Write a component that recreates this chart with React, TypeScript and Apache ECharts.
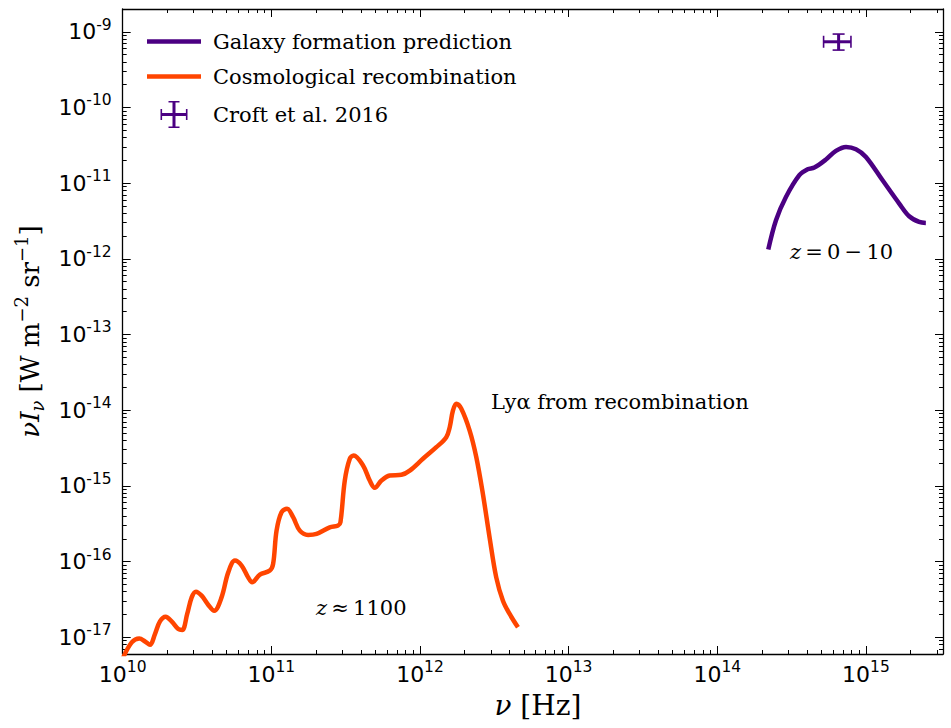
import React, { useEffect, useRef } from 'react';
import * as echarts from 'echarts';

// ---------- data (raw physical values) ----------
// Cosmological recombination spectrum: frequency [Hz], nu*I_nu [W m^-2 sr^-1]
const recombNu = [
  1.0e10, 1.15e10, 1.293e10, 1.413e10, 1.526e10, 1.648e10, 1.781e10, 1.945e10, 2.133e10, 2.366e10,
  2.515e10, 2.716e10, 2.911e10, 3.109e10, 3.396e10, 3.758e10, 4.127e10, 4.624e10, 5.129e10, 5.689e10,
  6.31e10, 6.98e10, 7.43e10, 8.37e10, 9.77e10, 1.028e11, 1.084e11, 1.171e11, 1.276e11, 1.401e11,
  1.554e11, 1.766e11, 2.014e11, 2.472e11, 2.812e11, 2.917e11, 3.119e11, 3.371e11, 3.581e11, 4.14e11,
  4.592e11, 4.96e11, 5.505e11, 6.25e11, 7.5e11, 8.53e11, 1.047e12, 1.288e12, 1.503e12, 1.585e12,
  1.667e12, 1.757e12, 1.897e12, 2.158e12, 2.393e12, 2.649e12, 2.938e12, 3.258e12, 3.614e12, 4.009e12,
  4.56e12,
];
const recombI = [
  5.2e-18, 8.53e-18, 9.64e-18, 8.79e-18, 7.94e-18, 1.1e-17, 1.62e-17, 1.87e-17, 1.62e-17, 1.28e-17,
  1.245e-17, 2.03e-17, 3.36e-17, 4.0e-17, 3.54e-17, 2.69e-17, 2.24e-17, 3.36e-17, 7.19e-17, 1.028e-16,
  8.83e-17, 6.18e-17, 5.31e-17, 6.71e-17, 7.59e-17, 9.29e-17, 2.56e-16, 4.48e-16, 4.97e-16, 3.85e-16,
  2.56e-16, 2.25e-16, 2.32e-16, 2.83e-16, 2.99e-16, 3.3e-16, 1.175e-15, 2.28e-15, 2.52e-15, 1.86e-15,
  1.175e-15, 9.42e-16, 1.175e-15, 1.368e-15, 1.4e-15, 1.59e-15, 2.28e-15, 3.24e-15, 4.4e-15, 5.96e-15,
  9.91e-15, 1.216e-14, 1.045e-14, 5.38e-15, 2.39e-15, 7.83e-16, 2.09e-16, 6.18e-17, 3.04e-17, 2.03e-17,
  1.35e-17,
];

// Galaxy formation prediction
const galaxyNu = [
  2.203e14, 2.483e14, 2.897e14, 3.565e14, 4.055e14, 4.498e14, 5.383e14, 6.28e14,
  7.35e14, 8.57e14, 1.0e15, 1.294e15, 1.675e15, 1.954e15, 2.28e15, 2.53e15,
];
const galaxyI = [
  1.324e-12, 3.23e-12, 6.56e-12, 1.274e-11, 1.528e-11, 1.607e-11, 2.05e-11, 2.67e-11,
  3.01e-11, 2.81e-11, 2.22e-11, 1.09e-11, 5.37e-12, 3.65e-12, 3.07e-12, 2.98e-12,
];

// Croft et al. 2016 measurement with error bars
const croftNu = [6.55e14];
const croftNuLow = [5.19e14];
const croftNuHigh = [7.93e14];
const croftI = [7.38e-10];
const croftILow = [5.73e-10];
const croftIHigh = [9.33e-10];

// axes
const xRange = [1e10, 3.3e15];
const yRange = [6e-18, 2e-9];
const xMajorExps = [10, 11, 12, 13, 14, 15];
const yMajorExps = [-17, -16, -15, -14, -13, -12, -11, -10, -9];

const seriesNames = ['Galaxy formation prediction', 'Cosmological recombination', 'Croft et al. 2016'];
const seriesColors = ['#4B0082', '#FF4500', '#4B0082'];

// ---------- helpers ----------
const L = Math.log10;
const minorLogs = (lo: number, hi: number) => {
  const out: number[] = [];
  for (let d = Math.floor(L(lo)); d <= Math.ceil(L(hi)); d++) {
    for (let k = 2; k <= 9; k++) {
      const v = k * Math.pow(10, d);
      if (v >= lo * 0.9999 && v <= hi * 1.0001) out.push(L(v));
    }
  }
  return out;
};

export default function App() {
  const ref = useRef<HTMLDivElement>(null);

  useEffect(() => {
    if (!ref.current) return;
    const chart = echarts.init(ref.current, null, { renderer: 'svg' });

    const xMin = L(xRange[0]);
    const xMax = L(xRange[1]);
    const yMin = L(yRange[0]);
    const yMax = L(yRange[1]);
    const xMinor = minorLogs(xRange[0], xRange[1]);
    const yMinor = minorLogs(yRange[0], yRange[1]);

    const lineStyle = { color: '#000', width: 1.3 };
    const tickStyle = { color: '#000', width: 1 };
    const tickRich = {
      b: { fontFamily: 'DejaVu Sans', fontSize: 22, lineHeight: 30, color: '#000' },
      e: { fontFamily: 'DejaVu Sans', fontSize: 15.5, lineHeight: 15, verticalAlign: 'top', color: '#000' },
    };
    const fmt = (v: number) => `{b|10}{e|${Math.round(v)}}`;

    const mkX = (pos: string, major: boolean, label: boolean) => ({
      type: 'value',
      position: pos,
      min: xMin,
      max: xMax,
      axisLine: { show: major, onZero: false, lineStyle },
      axisTick: {
        show: true,
        inside: true,
        length: major ? 8 : 4,
        lineStyle: tickStyle,
        customValues: major ? xMajorExps : xMinor,
      },
      axisLabel: label
        ? { show: true, customValues: xMajorExps, margin: 5, formatter: fmt, rich: tickRich }
        : { show: false },
      splitLine: { show: false },
    });
    const mkY = (pos: string, major: boolean, label: boolean) => ({
      type: 'value',
      position: pos,
      min: yMin,
      max: yMax,
      axisLine: { show: major, onZero: false, lineStyle },
      axisTick: {
        show: true,
        inside: true,
        length: major ? 8 : 4,
        lineStyle: tickStyle,
        customValues: major ? yMajorExps : yMinor,
      },
      axisLabel: label
        ? { show: true, customValues: yMajorExps, margin: 11, formatter: fmt, rich: tickRich }
        : { show: false },
      splitLine: { show: false },
    });

    const xAxes: any[] = [mkX('bottom', true, true), mkX('bottom', false, false), mkX('top', true, false), mkX('top', false, false)];
    const yAxes: any[] = [mkY('left', true, true), mkY('left', false, false), mkY('right', true, false), mkY('right', false, false)];

    xAxes[0].name = '{i|ν}{r| [Hz]}';
    xAxes[0].nameLocation = 'middle';
    xAxes[0].nameGap = 37;
    xAxes[0].nameTextStyle = {
      padding: [0, 0, 0, 10],
      rich: {
        i: { fontFamily: 'DejaVu Serif', fontStyle: 'italic', fontSize: 28, color: '#000' },
        r: { fontFamily: 'DejaVu Serif', fontSize: 28, color: '#000' },
      },
    };
    yAxes[0].name = '{i|νI}{s|ν}{r| [W m}{p|−2}{r| sr}{p|−1}{r|]}';
    yAxes[0].nameLocation = 'middle';
    yAxes[0].nameRotate = 90;
    yAxes[0].nameGap = 76;
    yAxes[0].nameTextStyle = {
      rich: {
        i: { fontFamily: 'DejaVu Serif', fontStyle: 'italic', fontSize: 26, lineHeight: 34, color: '#000' },
        s: { fontFamily: 'DejaVu Serif', fontStyle: 'italic', fontSize: 18, lineHeight: 18, verticalAlign: 'bottom', color: '#000' },
        r: { fontFamily: 'DejaVu Serif', fontSize: 26, lineHeight: 34, color: '#000' },
        p: { fontFamily: 'DejaVu Serif', fontSize: 18, lineHeight: 18, verticalAlign: 'top', color: '#000' },
      },
    };

    const toPts = (xs: number[], ys: number[]) => xs.map((x, i) => [L(x), L(ys[i])]);

    const serifRich = {
      i: { fontFamily: 'DejaVu Serif', fontStyle: 'italic', fontSize: 21, fill: '#000' },
      r: { fontFamily: 'DejaVu Serif', fontSize: 21, fill: '#000' },
    };

    const option: any = {
      animation: false,
      backgroundColor: '#fff',
      grid: { left: 122.7, right: 8, top: 9, bottom: 74, containLabel: false },
      xAxis: xAxes,
      yAxis: yAxes,
      legend: {
        orient: 'vertical',
        left: 142,
        top: 26,
        itemWidth: 54,
        itemHeight: 27,
        itemGap: 14,
        symbolKeepAspect: true,
        selectedMode: false,
        textStyle: { fontFamily: 'DejaVu Serif', fontSize: 21, color: '#000', padding: [0, 0, 0, 7] },
        data: [
          { name: seriesNames[0], icon: 'path://M0,0 L54,0 L54,4.5 L0,4.5 Z' },
          { name: seriesNames[1], icon: 'path://M0,0 L54,0 L54,4.5 L0,4.5 Z' },
          {
            name: seriesNames[2],
            icon:
              'path://M0,8 L1.6,8 L1.6,12 L12,12 L12,1.6 L8,1.6 L8,0 L19,0 L19,1.6 L15,1.6 L15,12 L25.4,12 L25.4,8 L27,8 L27,19 L25.4,19 L25.4,15 L15,15 L15,25.4 L19,25.4 L19,27 L8,27 L8,25.4 L12,25.4 L12,15 L1.6,15 L1.6,19 L0,19 Z',
          },
        ],
      },
      graphic: [
        {
          type: 'text',
          x: 491,
          y: 402,
          style: {
            text: 'Lyα from recombination',
            fontFamily: 'DejaVu Serif',
            fontSize: 21,
            fill: '#000',
            verticalAlign: 'middle',
          },
        },
        {
          type: 'text',
          x: 790,
          y: 252,
          style: {
            text: '{i|z}{r|\u2009=\u20090\u2009−\u200910}',
            verticalAlign: 'middle',
            rich: serifRich,
          },
        },
        {
          type: 'text',
          x: 316,
          y: 608,
          style: {
            text: '{i|z}{r|\u2009≈\u20091100}',
            verticalAlign: 'middle',
            rich: serifRich,
          },
        },
      ],
      series: [
        {
          name: seriesNames[0],
          type: 'line',
          xAxisIndex: 0,
          yAxisIndex: 0,
          data: toPts(galaxyNu, galaxyI),
          showSymbol: false,
          symbol: 'none',
          smooth: 0.35,
          lineStyle: { color: seriesColors[0], width: 4.5 },
          itemStyle: { color: seriesColors[0] },
          z: 3,
        },
        {
          name: seriesNames[1],
          type: 'line',
          xAxisIndex: 0,
          yAxisIndex: 0,
          data: toPts(recombNu, recombI),
          showSymbol: false,
          symbol: 'none',
          smooth: 0.35,
          lineStyle: { color: seriesColors[1], width: 4.5 },
          itemStyle: { color: seriesColors[1] },
          z: 3,
        },
        {
          name: seriesNames[2],
          type: 'custom',
          xAxisIndex: 0,
          yAxisIndex: 0,
          itemStyle: { color: seriesColors[2] },
          encode: { x: [0, 2, 3], y: [1, 4, 5] },
          data: croftNu.map((v, i) => [L(v), L(croftI[i]), L(croftNuLow[i]), L(croftNuHigh[i]), L(croftILow[i]), L(croftIHigh[i])]),
          renderItem: (params: any, api: any) => {
            const c = api.coord([api.value(0), api.value(1)]);
            const xl = api.coord([api.value(2), api.value(1)]);
            const xh = api.coord([api.value(3), api.value(1)]);
            const yl = api.coord([api.value(0), api.value(4)]);
            const yh = api.coord([api.value(0), api.value(5)]);
            const col = seriesColors[2];
            const bar = { stroke: col, lineWidth: 3 };
            const capS = { stroke: col, lineWidth: 1.6 };
            const cap = 6;
            return {
              type: 'group',
              children: [
                { type: 'line', shape: { x1: xl[0], y1: c[1], x2: xh[0], y2: c[1] }, style: bar },
                { type: 'line', shape: { x1: c[0], y1: yl[1], x2: c[0], y2: yh[1] }, style: bar },
                { type: 'line', shape: { x1: xl[0], y1: c[1] - cap, x2: xl[0], y2: c[1] + cap }, style: capS },
                { type: 'line', shape: { x1: xh[0], y1: c[1] - cap, x2: xh[0], y2: c[1] + cap }, style: capS },
                { type: 'line', shape: { x1: c[0] - cap, y1: yl[1], x2: c[0] + cap, y2: yl[1] }, style: capS },
                { type: 'line', shape: { x1: c[0] - cap, y1: yh[1], x2: c[0] + cap, y2: yh[1] }, style: capS },
              ],
            };
          },
          z: 4,
        },
      ],
    };

    chart.setOption(option);
    return () => chart.dispose();
  }, []);

  return (
    <div
      ref={ref}
      style={{ position: 'fixed', left: 0, top: 0, width: 951, height: 728, background: '#fff' }}
    />
  );
}
